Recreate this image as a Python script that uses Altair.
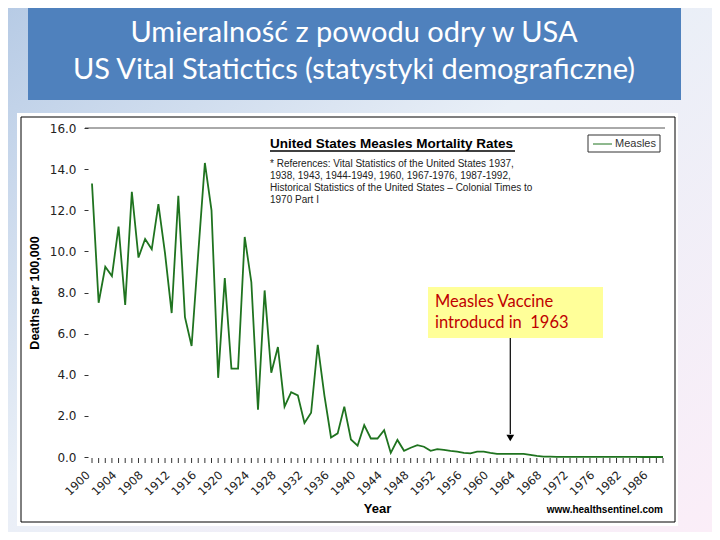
import altair as alt
import pandas as pd

# ---- data ----
years = [str(y) for y in range(1900, 1977)] + [str(y) for y in range(1979, 1989)]
rates = [13.3, 7.5, 9.25, 8.8, 11.2, 7.4, 12.9, 9.7, 10.6, 10.1,
         12.3, 9.9, 7.0, 12.7, 6.8, 5.4, 9.9, 14.3, 12.0, 3.85,
         8.7, 4.3, 4.3, 10.7, 8.5, 2.3, 8.1, 4.1, 5.35, 2.45,
         3.15, 3.0, 1.65, 2.15, 5.45, 3.0, 0.95, 1.15, 2.45, 0.85,
         0.55, 1.55, 0.9, 0.9, 1.3, 0.2, 0.83, 0.3, 0.45, 0.58,
         0.5, 0.3, 0.38, 0.35, 0.3, 0.26, 0.2, 0.18, 0.26, 0.26,
         0.2, 0.15, 0.15, 0.15, 0.15, 0.15, 0.1, 0.05, 0.02, 0.02,
         0.01, 0.01, 0.01, 0.01, 0.01, 0.01, 0.01, 0.01, 0.01, 0.01,
         0.01, 0.01, 0.01, 0.0, 0.01, 0.0, 0.0]
label_years = ["1900", "1904", "1908", "1912", "1916", "1920", "1924", "1928",
               "1932", "1936", "1940", "1944", "1948", "1952", "1956", "1960",
               "1964", "1968", "1972", "1976", "1982", "1986"]
y_ticks = [0, 2, 4, 6, 8, 10, 12, 14, 16]

slide_title = ["Umieralność z powodu odry w USA",
               "US Vital Statictics (statystyki demograficzne)"]
chart_title = "United States Measles Mortality Rates"
ref_lines = ["* References: Vital Statistics of the United States 1937,",
             "1938, 1943, 1944-1949, 1960, 1967-1976, 1987-1992,",
             "Historical Statistics of the United States \u2013 Colonial Times to",
             "1970 Part I"]
note_lines = ["Measles Vaccine", "introducd in\u00a0 1963"]
vaccine_year = "1963"
series_name = "Measles"
y_title = "Deaths per 100,000"
x_title = "Year"
source = "www.healthsentinel.com"

df = pd.DataFrame({"year": years, "rate": rates})
one = pd.DataFrame({"k": [0]})

xscale = alt.Scale(type="point", domain=years, padding=0)
yscale = alt.Scale(domain=[0, 16], nice=False)
GREEN = "#1f731f"

base1 = alt.Chart(one)

bg = base1.mark_rect(
    fill=alt.LinearGradient(
        gradient="linear", x1=0, y1=0, x2=1, y2=1,
        stops=[alt.GradientStop(offset=0, color="#b7cbe5"),
               alt.GradientStop(offset=0.45, color="#e9eff7"),
               alt.GradientStop(offset=1, color="#fbeef8")])
).encode(x=alt.value(-84), x2=alt.value(620), y=alt.value(-120), y2=alt.value(404))

title_box = base1.mark_rect(color="#4f81bd").encode(
    x=alt.value(-64), x2=alt.value(589), y=alt.value(-120), y2=alt.value(-28))

title_text = base1.mark_text(
    font="Lato", fontSize=29, color="white", align="center", baseline="middle",
    lineHeight=37
).encode(x=alt.value(262), y=alt.value(-95), text=alt.value(slide_title))

white_box = base1.mark_rect(color="white").encode(
    x=alt.value(-75), x2=alt.value(586), y=alt.value(-15), y2=alt.value(398))

border = base1.mark_rect(fill=None, stroke="black", strokeWidth=1).encode(
    x=alt.value(-71), x2=alt.value(583), y=alt.value(-11), y2=alt.value(394))

top_rule = base1.mark_rule(color="#555555", strokeWidth=1).encode(
    x=alt.value(-7), x2=alt.value(573), y=alt.value(0))

ctitle = base1.mark_text(
    font="Liberation Sans", fontSize=13.5, fontWeight="bold", color="black",
    align="left", baseline="alphabetic"
).encode(x=alt.value(178), y=alt.value(20), text=alt.value(chart_title))

underline = base1.mark_rule(color="black", strokeWidth=1.5).encode(
    x=alt.value(178), x2=alt.value(423), y=alt.value(23))

refs = base1.mark_text(
    font="Liberation Sans", fontSize=10, color="#222222", align="left",
    baseline="alphabetic", lineHeight=12
).encode(x=alt.value(178), y=alt.value(39), text=alt.value(ref_lines))

legend_box = base1.mark_rect(fill="white", stroke="#333333", strokeWidth=1).encode(
    x=alt.value(496), x2=alt.value(568), y=alt.value(7), y2=alt.value(24))
legend_line = base1.mark_rule(color=GREEN, strokeWidth=1).encode(
    x=alt.value(501), x2=alt.value(520), y=alt.value(16))
legend_text = base1.mark_text(
    font="Liberation Sans", fontSize=11, color="#333333", align="left", baseline="middle"
).encode(x=alt.value(523), y=alt.value(16), text=alt.value(series_name))

ticks = alt.Chart(df).mark_rule(color="#333333", strokeWidth=1).encode(
    x=alt.X("year:O", scale=xscale), y=alt.value(330), y2=alt.value(335))

line = alt.Chart(df).mark_line(color=GREEN, strokeWidth=1.8).encode(
    x=alt.X("year:O", scale=xscale,
            axis=alt.Axis(values=label_years, title=None, domain=False, ticks=False,
                          labelAngle=316, labelAlign="right", labelBaseline="top",
                          labelPadding=12, labelOffset=-8, labelFont="DejaVu Sans",
                          labelFontSize=11.5, labelColor="#222222", zindex=1)),
    y=alt.Y("rate:Q", scale=yscale,
            axis=alt.Axis(values=y_ticks, format=".1f", title=None, domain=False,
                          grid=False, tickSize=4, tickColor="#333333", offset=4,
                          labelPadding=8, labelFont="DejaVu Sans", labelFontSize=12,
                          labelColor="#222222", zindex=1)),
)

note_box = base1.mark_rect(color="#ffff99").encode(
    x=alt.value(336), x2=alt.value(511), y=alt.value(159), y2=alt.value(210))
note_text = base1.mark_text(
    font="Lato", fontSize=16.5, color="#c00000", align="left", baseline="alphabetic",
    lineHeight=21
).encode(x=alt.value(343), y=alt.value(179), text=alt.value(note_lines))

arrow = base1.mark_rule(color="black", strokeWidth=1.2).encode(
    x=alt.XDatum(vaccine_year, type="ordinal", scale=xscale),
    y=alt.value(210), y2=alt.value(306))
arrow_head = base1.mark_point(shape="triangle-down", filled=True, size=60,
                              color="black", opacity=1).encode(
    x=alt.XDatum(vaccine_year, type="ordinal", scale=xscale), y=alt.value(310))

ytitle = base1.mark_text(
    font="Liberation Sans", fontSize=12.5, fontWeight="bold", color="black",
    angle=270, align="center", baseline="middle"
).encode(x=alt.value(-57), y=alt.value(165), text=alt.value(y_title))

xtitle = base1.mark_text(
    font="Liberation Sans", fontSize=13, fontWeight="bold", color="black",
    align="center", baseline="middle"
).encode(x=alt.value(285.5), y=alt.value(381), text=alt.value(x_title))

src = base1.mark_text(
    font="Liberation Sans", fontSize=10, fontWeight="bold", color="black",
    align="right", baseline="alphabetic"
).encode(x=alt.value(571), y=alt.value(385), text=alt.value(source))

chart = alt.layer(
    bg, title_box, title_text, white_box, border, top_rule, ctitle, underline, refs,
    legend_box, legend_line, legend_text, ticks, line, note_box, note_text,
    arrow, arrow_head, ytitle, xtitle, src
).properties(
    width=571, height=329,
    padding={"left": 84, "top": 120, "right": 49, "bottom": 75},
    autosize=alt.AutoSizeParams(type="none"),
    background="white",
).configure_view(strokeWidth=0)

chart.save("out.html", embed_options={"renderer": "svg", "actions": False})
